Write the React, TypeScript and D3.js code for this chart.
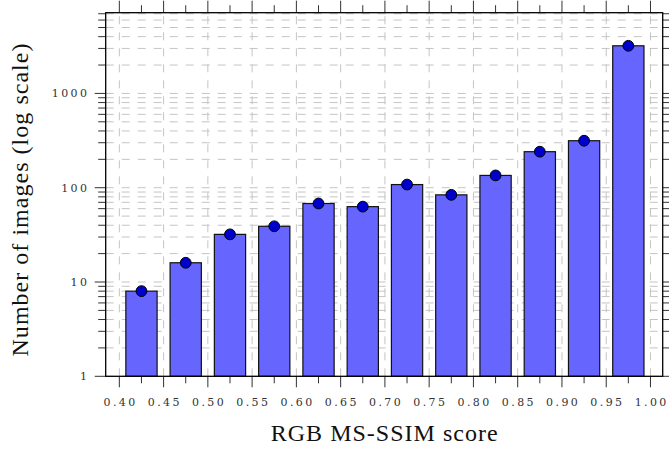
import React from "react";
import * as d3 from "d3";

const binCenters = [0.425, 0.475, 0.525, 0.575, 0.625, 0.675, 0.725, 0.775, 0.825, 0.875, 0.925, 0.975];
const imageCounts = [8, 16, 32, 39, 68, 63, 108, 84, 135, 241, 315, 3200];
const xMajorTicks = [0.4, 0.45, 0.5, 0.55, 0.6, 0.65, 0.7, 0.75, 0.8, 0.85, 0.9, 0.95, 1.0];
const xMinorTicks = [0.425, 0.475, 0.525, 0.575, 0.625, 0.675, 0.725, 0.775, 0.825, 0.875, 0.925, 0.975];
const yMajorTicks = [1, 10, 100, 1000];
const xLabel = "RGB MS-SSIM score";
const yLabel = "Number of images (log scale)";

const W = 669;
const H = 449;
const left = 105.7;
const right = 662.7;
const top = 12.7;
const bottom = 376.3;
const barFrac = 0.706;
const binWidth = 0.05;

export default function App() {
  const x = d3.scaleLinear().domain([0.3846, 1.0138]).range([left, right]);
  const y = d3.scaleLog().domain([1, 7180]).range([bottom, top]);
  const allY = y.ticks().filter((v) => v <= 7180);
  const yMinor = allY.filter((v) => !yMajorTicks.includes(v));
  const bw = x(binWidth * barFrac) - x(0);
  const gridColor = "#c4c4c4";
  const tickColor = "#333";
  const ls = 2.4;
  const tickFont = { fontFamily: "DejaVu Serif", fontSize: "11px", letterSpacing: ls + "px", fill: "#333" } as any;
  const labelFont = { fontFamily: "Liberation Serif", fontSize: "24px", fill: "#111" } as any;
  const fmt = d3.format(".2f");

  return (
    <svg width={W} height={H} style={{ position: "absolute", left: 0, top: 0, background: "#fff" }}>
      <rect x={0} y={0} width={W} height={H} fill="#fff" />
      <g stroke={gridColor} strokeWidth={1} strokeDasharray="8,8">
        {allY.map((v, i) => (
          <line key={"gy" + i} x1={left} x2={right} y1={y(v)} y2={y(v)} />
        ))}
        {xMajorTicks.map((v, i) => (
          <line key={"gx" + i} x1={x(v)} x2={x(v)} y1={bottom} y2={top} />
        ))}
      </g>
      <g>
        {binCenters.map((c, i) => (
          <rect
            key={"b" + i}
            x={x(c) - bw / 2}
            width={bw}
            y={y(imageCounts[i])}
            height={y(1) - y(imageCounts[i])}
            fill="#6666ff"
            stroke="#111"
            strokeWidth={1.2}
          />
        ))}
      </g>
      <g>
        {binCenters.map((c, i) => (
          <circle key={"m" + i} cx={x(c)} cy={y(imageCounts[i])} r={5.4} fill="#0000cc" stroke="#000" strokeWidth={1} />
        ))}
      </g>
      <g stroke={tickColor} strokeWidth={1}>
        {xMajorTicks.map((v, i) => (
          <g key={"xt" + i}>
            <line x1={x(v)} x2={x(v)} y1={bottom} y2={bottom + 11} />
            <line x1={x(v)} x2={x(v)} y1={top} y2={top - 12} />
          </g>
        ))}
        {xMinorTicks.map((v, i) => (
          <g key={"xm" + i}>
            <line x1={x(v)} x2={x(v)} y1={bottom} y2={bottom + 7} />
            <line x1={x(v)} x2={x(v)} y1={top} y2={top - 7.5} />
          </g>
        ))}
        {yMajorTicks.map((v, i) => (
          <g key={"yt" + i}>
            <line x1={left} x2={left - 11} y1={y(v)} y2={y(v)} />
            <line x1={right} x2={right + 11} y1={y(v)} y2={y(v)} />
          </g>
        ))}
        {yMinor.map((v, i) => (
          <g key={"ym" + i}>
            <line x1={left} x2={left - 7.5} y1={y(v)} y2={y(v)} />
            <line x1={right} x2={right + 7.5} y1={y(v)} y2={y(v)} />
          </g>
        ))}
      </g>
      <rect x={left} y={top} width={right - left} height={bottom - top} fill="none" stroke="#000" strokeWidth={1.3} />
      {xMajorTicks.map((v, i) => (
        <text key={"xl" + i} x={x(v) + ls / 2} y={406} textAnchor="middle" style={tickFont}>
          {fmt(v)}
        </text>
      ))}
      {yMajorTicks.map((v, i) => (
        <text key={"yl" + i} x={87 + ls} y={y(v) + 4} textAnchor="end" style={tickFont}>
          {String(v)}
        </text>
      ))}
      <text x={(left + right) / 2} y={441} textAnchor="middle" style={labelFont} textLength={227} lengthAdjust="spacing">
        {xLabel}
      </text>
      <text
        transform={`translate(28, 200) rotate(-90)`}
        textAnchor="middle"
        style={labelFont}
        textLength={313}
        lengthAdjust="spacing"
      >
        {yLabel}
      </text>
    </svg>
  );
}
